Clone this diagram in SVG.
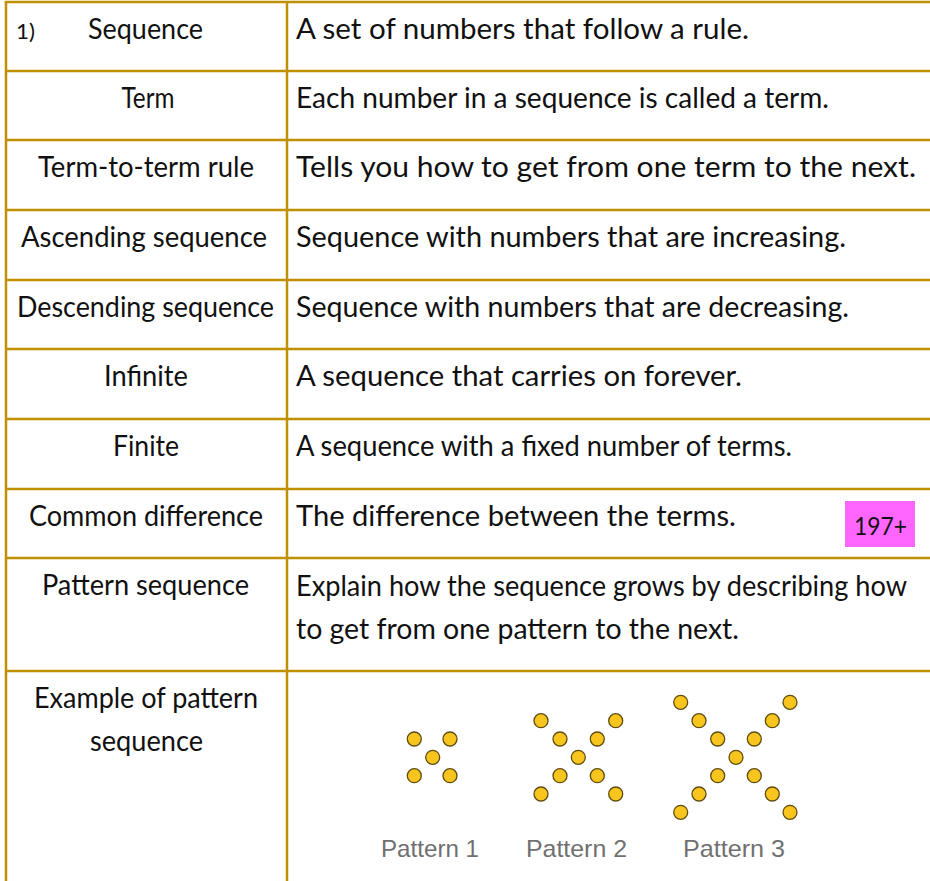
<svg xmlns="http://www.w3.org/2000/svg" width="930" height="881" viewBox="0 0 930 881">
<style>
.t{font-family:Lato,"Open Sans","Liberation Sans",sans-serif;font-size:28px;fill:#111}
.c{text-anchor:middle}
.g{stroke:#bf9000;stroke-width:2.5;fill:none}
.d{fill:#f7c51e;stroke:#5e4c10;stroke-width:1.3}
.p{font-family:"Liberation Sans",Arial,sans-serif;font-size:24px;fill:#707070}
</style>
<rect width="930" height="881" fill="#fff"/>
<g id="grid" class="g">
<line x1="4.7" y1="2" x2="930" y2="2"/>
<line x1="6" y1="2" x2="6" y2="881"/>
<line x1="287" y1="2" x2="287" y2="881"/>
<line x1="6" y1="71" x2="930" y2="71"/>
<line x1="6" y1="140" x2="930" y2="140"/>
<line x1="6" y1="210" x2="930" y2="210"/>
<line x1="6" y1="280" x2="930" y2="280"/>
<line x1="6" y1="349" x2="930" y2="349"/>
<line x1="6" y1="419" x2="930" y2="419"/>
<line x1="6" y1="489" x2="930" y2="489"/>
<line x1="6" y1="558" x2="930" y2="558"/>
<line x1="6" y1="671" x2="930" y2="671"/>
</g>
<g id="row1">
<text class="t" x="16" y="39" style="font-size:21px" textLength="19" lengthAdjust="spacingAndGlyphs">1)</text>
<text class="t" x="88" y="39" textLength="115" lengthAdjust="spacingAndGlyphs">Sequence</text>
<text class="t" x="296" y="39" textLength="453" lengthAdjust="spacingAndGlyphs">A set of numbers that follow a rule.</text>
</g>
<g id="row2">
<text class="t c" x="148" y="108" textLength="53" lengthAdjust="spacingAndGlyphs">Term</text>
<text class="t" x="296" y="108" textLength="533" lengthAdjust="spacingAndGlyphs">Each number in a sequence is called a term.</text>
</g>
<g id="row3">
<text class="t c" x="146" y="177" textLength="216" lengthAdjust="spacingAndGlyphs">Term-to-term rule</text>
<text class="t" x="296" y="177" textLength="620" lengthAdjust="spacingAndGlyphs">Tells you how to get from one term to the next.</text>
</g>
<g id="row4">
<text class="t c" x="144" y="247" textLength="246" lengthAdjust="spacingAndGlyphs">Ascending sequence</text>
<text class="t" x="296" y="247" textLength="550" lengthAdjust="spacingAndGlyphs">Sequence with numbers that are increasing.</text>
</g>
<g id="row5">
<text class="t c" x="145.5" y="317" textLength="257" lengthAdjust="spacingAndGlyphs">Descending sequence</text>
<text class="t" x="296" y="317" textLength="553" lengthAdjust="spacingAndGlyphs">Sequence with numbers that are decreasing.</text>
</g>
<g id="row6">
<text class="t c" x="146" y="386" textLength="84" lengthAdjust="spacingAndGlyphs">Infinite</text>
<text class="t" x="296" y="386" textLength="446" lengthAdjust="spacingAndGlyphs">A sequence that carries on forever.</text>
</g>
<g id="row7">
<text class="t c" x="146" y="456" textLength="66" lengthAdjust="spacingAndGlyphs">Finite</text>
<text class="t" x="296" y="456" textLength="496" lengthAdjust="spacingAndGlyphs">A sequence with a fixed number of terms.</text>
</g>
<g id="row8">
<text class="t c" x="146" y="526" textLength="234" lengthAdjust="spacingAndGlyphs">Common difference</text>
<text class="t" x="296" y="526" textLength="440" lengthAdjust="spacingAndGlyphs">The difference between the terms.</text>
<rect x="845" y="501" width="70" height="46" fill="#ff66ff"/>
<text class="t" x="854" y="535" style="font-size:25px" textLength="53" lengthAdjust="spacingAndGlyphs">197+</text>
</g>
<g id="row9">
<text class="t c" x="145.5" y="595" textLength="207" lengthAdjust="spacingAndGlyphs">Pattern sequence</text>
<text class="t" x="296" y="596" textLength="611" lengthAdjust="spacingAndGlyphs">Explain how the sequence grows by describing how</text>
<text class="t" x="296" y="639" textLength="443" lengthAdjust="spacingAndGlyphs">to get from one pattern to the next.</text>
</g>
<g id="row10">
<text class="t c" x="146" y="708" textLength="224" lengthAdjust="spacingAndGlyphs">Example of pattern</text>
<text class="t c" x="146.5" y="751" textLength="113" lengthAdjust="spacingAndGlyphs">sequence</text>
</g>
<g id="pattern1">
<circle class="d" cx="414.3" cy="739" r="7"/>
<circle class="d" cx="450" cy="739" r="7"/>
<circle class="d" cx="432.7" cy="757.3" r="7"/>
<circle class="d" cx="414.3" cy="775.7" r="7"/>
<circle class="d" cx="450" cy="775.7" r="7"/>
<text class="p" x="381" y="857" textLength="98" lengthAdjust="spacingAndGlyphs">Pattern 1</text>
</g>
<g id="pattern2">
<circle class="d" cx="541" cy="720.7" r="7"/>
<circle class="d" cx="615.7" cy="720.7" r="7"/>
<circle class="d" cx="560" cy="739" r="7"/>
<circle class="d" cx="597.3" cy="739" r="7"/>
<circle class="d" cx="578.3" cy="757.3" r="7"/>
<circle class="d" cx="560" cy="775.7" r="7"/>
<circle class="d" cx="597.3" cy="775.7" r="7"/>
<circle class="d" cx="541" cy="794" r="7"/>
<circle class="d" cx="615.7" cy="794" r="7"/>
<text class="p" x="526" y="857" textLength="101" lengthAdjust="spacingAndGlyphs">Pattern 2</text>
</g>
<g id="pattern3">
<circle class="d" cx="680.7" cy="702.3" r="7"/>
<circle class="d" cx="790" cy="702.3" r="7"/>
<circle class="d" cx="699" cy="720.7" r="7"/>
<circle class="d" cx="772.3" cy="720.7" r="7"/>
<circle class="d" cx="717.7" cy="739" r="7"/>
<circle class="d" cx="754.3" cy="739" r="7"/>
<circle class="d" cx="736" cy="757.3" r="7"/>
<circle class="d" cx="717.7" cy="775.7" r="7"/>
<circle class="d" cx="754.3" cy="775.7" r="7"/>
<circle class="d" cx="699" cy="794" r="7"/>
<circle class="d" cx="772.3" cy="794" r="7"/>
<circle class="d" cx="680.7" cy="812.3" r="7"/>
<circle class="d" cx="790" cy="812.3" r="7"/>
<text class="p" x="683" y="857" textLength="102" lengthAdjust="spacingAndGlyphs">Pattern 3</text>
</g>
</svg>
